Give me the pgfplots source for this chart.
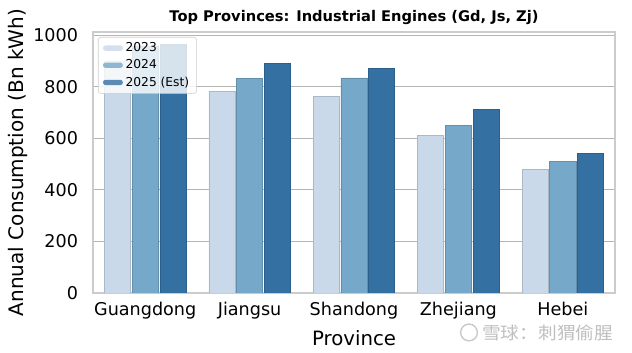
\documentclass[border=0pt]{standalone}
\usepackage{fontspec}
\setmainfont{DejaVu Sans}
\newfontfamily\cjk{Noto Sans CJK SC}
\usepackage{pgfplots}
\pgfplotsset{compat=1.18}
\definecolor{c23}{HTML}{CAD9E9}
\definecolor{c24}{HTML}{76A8C9}
\definecolor{c25}{HTML}{3570A3}
\definecolor{gridc}{HTML}{B5B5B5}
\definecolor{spine}{HTML}{CCCCCC}
\begin{document}
\begin{tikzpicture}
\useasboundingbox (-69.75pt,-45pt) rectangle (404.25pt,219.75pt);
\begin{axis}[
  at={(0,0)}, anchor=south west, scale only axis,
  width=391.5pt, height=195.75pt,
  xmin=-0.5, xmax=4.5, ymin=0, ymax=1012,
  ybar=1.2pt, bar width=0.25,
  xtick={0,1,2,3,4},
  xticklabels={Guangdong,Jiangsu,Shandong,Zhejiang,Hebei},
  ytick={0,200,400,600,800,1000},
  /pgf/number format/1000 sep={},
  /pgf/number format/assume math mode=true,
  major tick length=0pt,
  ymajorgrids, xmajorgrids=false,
  grid style={draw=gridc, line width=0.8pt},
  axis line style={draw=spine, line width=1.3pt},
  tick label style={font=\fontsize{13.2}{15}\selectfont, inner sep=0pt},
  yticklabel shift=11pt,
  xticklabel shift=7pt,
  ylabel={Annual Consumption (Bn kWh)},
  ylabel style={at={(axis description cs:-0.1437,0.5)}, anchor=center, rotate=0, font=\fontsize{15}{17}\selectfont},
  xlabel={Province},
  xlabel style={at={(axis description cs:0.5,0)}, anchor=center, yshift=-34pt, font=\fontsize{14.8}{17}\selectfont},
  every axis title shift=0pt,
  title={Top Provinces: Industrial Engines (Gd, Js, Zj)},
  title style={at={(axis description cs:0.5,1)}, anchor=center, yshift=10.5pt, font=\bfseries\fontsize{11}{13}\selectfont},
  legend style={at={(0,1)}, anchor=north west, xshift=3.75pt, yshift=-3.75pt,
    fill=white, fill opacity=0.8, text opacity=1, draw=spine, rounded corners=2pt,
    font=\fontsize{9.2}{11}\selectfont, row sep=0.5pt, inner xsep=3.5pt, inner ysep=2pt},
  legend cell align=left,
  legend image code/.code={\draw[#1, draw=none] (0pt,-2pt) rectangle (15pt,2pt);},
]
\addplot[fill=c23, draw=c23!85!black, line width=0.4pt] coordinates {(0,900) (1,783) (2,761) (3,610) (4,479)};
\addplot[fill=c24, draw=c24!85!black, line width=0.4pt] coordinates {(0,955) (1,832) (2,834) (3,651) (4,510)};
\addplot[fill=c25, draw=c25!85!black, line width=0.4pt] coordinates {(0,965) (1,890) (2,870) (3,712) (4,540)};
\legend{2023,2024,2025 (Est)}
\end{axis}
\draw[black!22, line width=1pt] (282pt,-29.6pt) circle (6.3pt);
\node[text=black!25, font=\cjk\fontsize{13}{15}\selectfont, xscale=1.08] at (341pt,-29.6pt) {雪球：刺猬偷腥};
\end{tikzpicture}
\end{document}
